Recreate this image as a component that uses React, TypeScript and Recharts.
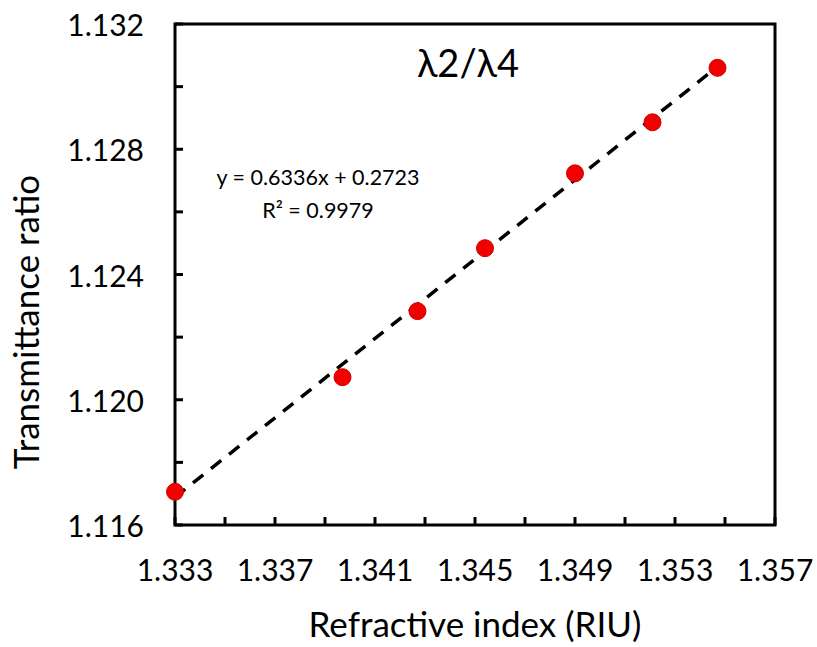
import { ComposedChart, Scatter, Line, XAxis, YAxis, ReferenceArea, Label } from "recharts";

// measured points: refractive index vs transmittance ratio (λ2/λ4)
const riu = [1.333, 1.3397, 1.3427, 1.3454, 1.349, 1.3521, 1.3547];
const ratio = [1.11706, 1.12072, 1.12283, 1.12484, 1.12723, 1.12886, 1.1306];

// linear fit printed on the chart
const slope = 0.6336;
const intercept = 0.2723;
const r2 = "0.9979";

const xTicks = [1.333, 1.335, 1.337, 1.339, 1.341, 1.343, 1.345, 1.347, 1.349, 1.351, 1.353, 1.355, 1.357];
const xTickLabels = ["1.333", "", "1.337", "", "1.341", "", "1.345", "", "1.349", "", "1.353", "", "1.357"];
const yTicks = [1.116, 1.118, 1.12, 1.122, 1.124, 1.126, 1.128, 1.13, 1.132];
const yTickLabels = ["1.116", "", "1.120", "", "1.124", "", "1.128", "", "1.132"];

const points = riu.map((x, i) => ({ x, y: ratio[i] }));
const fitEnds = [riu[0], riu[riu.length - 1]];
const fitLine = fitEnds.map((x) => ({ x, y: slope * x + intercept }));

const FONT = "Lato, 'Open Sans', sans-serif";

function XTick(props: any) {
  const { x, y, index } = props;
  return (
    <g>
      <line x1={x} x2={x} y1={y} y2={y - 8} stroke="#000" strokeWidth={3} />
      <text x={x} y={y + 56} textAnchor="middle" fontSize={30} fontFamily={FONT} fill="#000">
        {xTickLabels[index]}
      </text>
    </g>
  );
}

function YTick(props: any) {
  const { x, y, index } = props;
  return (
    <g>
      <line x1={x} x2={x + 8} y1={y} y2={y} stroke="#000" strokeWidth={3} />
      <text x={x - 31} y={y} textAnchor="end" dominantBaseline="central" fontSize={30} fontFamily={FONT} fill="#000">
        {yTickLabels[index]}
      </text>
    </g>
  );
}

export default function App() {
  return (
    <div style={{ position: "absolute", left: 0, top: 0, width: 817, height: 647, background: "#fff" }}>
      <ComposedChart width={817} height={647} margin={{ top: 24, right: 42, bottom: 0, left: 0 }}>
        <XAxis
          dataKey="x"
          type="number"
          domain={[1.333, 1.357]}
          ticks={xTicks}
          interval={0}
          axisLine={false}
          tickLine={false}
          tickSize={0}
          tickMargin={0}
          height={122}
          tick={<XTick />}
        >
          <Label value="Refractive index (RIU)" position="insideBottom" offset={10} fontSize={35} fontFamily={FONT} fill="#000" />
        </XAxis>
        <YAxis
          dataKey="y"
          type="number"
          domain={[1.116, 1.132]}
          ticks={yTicks}
          interval={0}
          axisLine={false}
          tickLine={false}
          tickSize={0}
          tickMargin={0}
          width={175}
          tick={<YTick />}
        >
          <Label
            content={() => (
              <text
                x={25}
                y={322}
                transform="rotate(-90 25 322)"
                textAnchor="middle"
                dominantBaseline="central"
                fontSize={35}
                fontFamily={FONT}
                fill="#000"
              >
                Transmittance ratio
              </text>
            )}
          />
        </YAxis>
        <ReferenceArea x1={1.333} x2={1.357} y1={1.116} y2={1.132} fill="none" stroke="#000" strokeWidth={3} />
        <Line
          data={fitLine}
          dataKey="y"
          stroke="#000"
          strokeWidth={3.5}
          strokeDasharray="13 10"
          dot={false}
          activeDot={false}
          isAnimationActive={false}
        />
        <Scatter data={points} fill="#f00" isAnimationActive={false}
          shape={(p: any) => <circle cx={p.cx} cy={p.cy} r={8.5} fill="#f20000" stroke="#d00000" strokeWidth={1} />}
        />
        <text x={468} y={77} textAnchor="middle" fontSize={38} fontFamily={FONT} fill="#000">
          λ2/λ4
        </text>
        <text x={318} y={185} textAnchor="middle" fontSize={21.5} fontFamily={FONT} fill="#000">
          y = {slope}x + {intercept}
        </text>
        <text x={318} y={218} textAnchor="middle" fontSize={21.5} fontFamily={FONT} fill="#000">
          R² = {r2}
        </text>
      </ComposedChart>
    </div>
  );
}
